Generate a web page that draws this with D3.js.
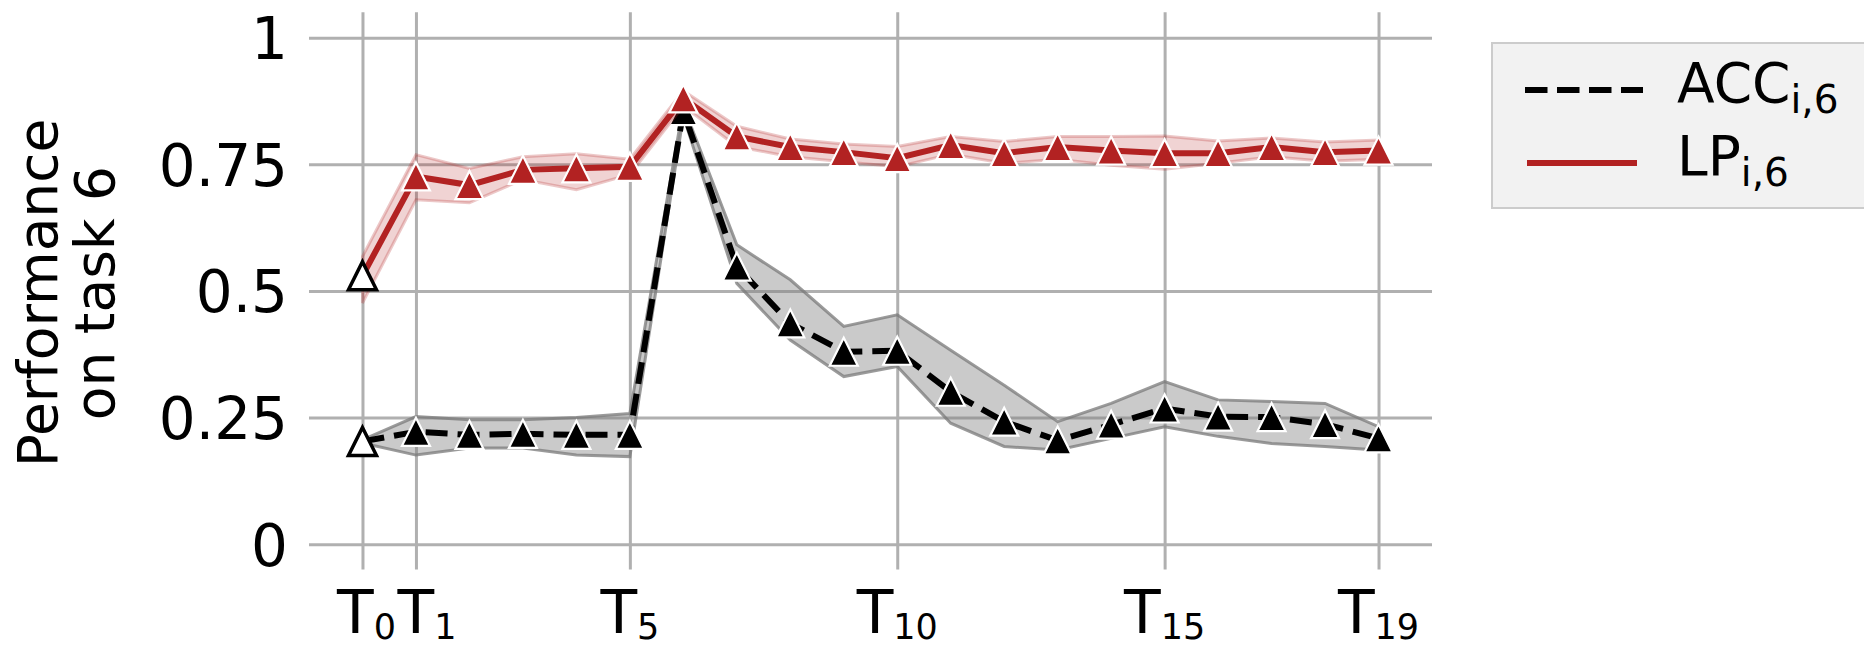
<!DOCTYPE html>
<html>
<head>
<meta charset="utf-8">
<script src="https://cdn.jsdelivr.net/npm/d3@7"></script>
<style>
  body { margin: 0; background: #fff; }
  svg { display: block; font-family: "DejaVu Sans", sans-serif; }
</style>
</head>
<body>
<svg id="chart" width="1864" height="648"></svg>
<script>
// task index on the x axis
const tasks = [0, 1, 2, 3, 4, 5, 6, 7, 8, 9, 10, 11, 12, 13, 14, 15, 16, 17, 18, 19];
const xTicks = [0, 1, 5, 10, 15, 19];
const yTicks = [0, 0.25, 0.5, 0.75, 1];
const yTickLabels = ["0", "0.25", "0.5", "0.75", "1"];

// ACC_{i,6}
const accMean = [0.203, 0.222, 0.216, 0.218, 0.216, 0.216, 0.855, 0.548, 0.436, 0.380, 0.382, 0.301, 0.242, 0.205, 0.236, 0.268, 0.252, 0.251, 0.237, 0.209];
const accLo   = [0.200, 0.176, 0.190, 0.190, 0.176, 0.173, 0.845, 0.515, 0.403, 0.331, 0.351, 0.239, 0.193, 0.186, 0.209, 0.232, 0.213, 0.199, 0.193, 0.186];
const accHi   = [0.206, 0.252, 0.246, 0.246, 0.250, 0.258, 0.865, 0.591, 0.522, 0.430, 0.453, 0.383, 0.314, 0.242, 0.278, 0.321, 0.285, 0.282, 0.278, 0.232];

// LP_{i,6}
const lpMean = [0.530, 0.726, 0.709, 0.739, 0.742, 0.745, 0.880, 0.805, 0.784, 0.774, 0.762, 0.788, 0.772, 0.784, 0.777, 0.772, 0.772, 0.784, 0.774, 0.777];
const lpLo   = [0.476, 0.680, 0.674, 0.720, 0.700, 0.730, 0.865, 0.785, 0.765, 0.755, 0.745, 0.770, 0.752, 0.760, 0.748, 0.740, 0.752, 0.765, 0.756, 0.760];
const lpHi   = [0.568, 0.769, 0.742, 0.765, 0.771, 0.760, 0.895, 0.825, 0.800, 0.790, 0.785, 0.805, 0.795, 0.805, 0.805, 0.806, 0.796, 0.802, 0.794, 0.798];

const red = "#b22222";
const gridColor = "#b0b0b0";

const svg = d3.select("#chart");

const plotL = 309, plotR = 1432, plotT = 12.3, plotB = 569.6;

const x = d3.scaleLinear().domain([-1, 20]).range([plotL, plotR]);
const y = d3.scaleLinear().domain([-0.05, 1.05]).range([plotB, plotT]);

// grid
const yAxis = svg.append("g")
  .attr("transform", "translate(" + plotL + ",0)")
  .call(d3.axisLeft(y).tickValues(yTicks).tickSize(-(plotR - plotL)).tickFormat((d, i) => yTickLabels[i]));
yAxis.select(".domain").remove();
yAxis.selectAll(".tick line").attr("stroke", gridColor).attr("stroke-width", 3);
yAxis.selectAll(".tick text")
  .attr("x", -21)
  .attr("dy", "0.36em")
  .attr("fill", "#000")
  .style("font-size", "58px")
  .style("font-family", "DejaVu Sans");

const xAxis = svg.append("g")
  .attr("transform", "translate(0," + plotB + ")")
  .call(d3.axisBottom(x).tickValues(xTicks).tickSize(-(plotB - plotT)).tickFormat(""));
xAxis.select(".domain").remove();
xAxis.selectAll(".tick line").attr("stroke", gridColor).attr("stroke-width", 3);
xAxis.selectAll(".tick text").remove();

// x tick labels with subscripts (the first two are nudged apart a little, as in the original)
const nudge = t => t === 0 ? 4 : (t === 1 ? 11 : 0);
const xLab = svg.append("g");
xTicks.forEach(t => {
  const txt = xLab.append("text")
    .attr("x", x(t) + nudge(t))
    .attr("y", 633)
    .attr("text-anchor", "middle")
    .style("font-size", "60px");
  txt.append("tspan").text("T");
  txt.append("tspan").attr("dy", 6).style("font-size", "35px").text(String(t));
});

// y label
svg.append("text")
  .attr("transform", "translate(57,293) rotate(-90)")
  .attr("text-anchor", "middle")
  .style("font-size", "55px")
  .text("Performance");
svg.append("text")
  .attr("transform", "translate(114,293) rotate(-90)")
  .attr("text-anchor", "middle")
  .style("font-size", "55px")
  .text("on task 6");

const line = d3.line().x((d, i) => x(tasks[i])).y(d => y(d));
const band = d3.area().x((d, i) => x(tasks[i])).y0(d => y(d[0])).y1(d => y(d[1]));

const tri = 28;
const triPath = "M0," + (-tri / 2) + "L" + (tri / 2) + "," + (tri / 2) + "L" + (-tri / 2) + "," + (tri / 2) + "Z";

function drawSeries(mean, lo, hi, opts) {
  const g = svg.append("g");
  g.append("path")
    .datum(lo.map((v, i) => [v, hi[i]]))
    .attr("d", band)
    .attr("fill", opts.bandFill)
    .attr("fill-opacity", opts.bandOpacity)
    .attr("stroke", opts.bandStroke)
    .attr("stroke-opacity", opts.bandStrokeOpacity)
    .attr("stroke-width", 3);
  g.append("path")
    .datum(mean)
    .attr("d", line)
    .attr("fill", "none")
    .attr("stroke", opts.color)
    .attr("stroke-width", 6)
    .attr("stroke-dasharray", opts.dash);
  g.selectAll("path.mk")
    .data(mean)
    .enter()
    .append("path")
    .attr("class", "mk")
    .attr("d", triPath)
    .attr("transform", (d, i) => "translate(" + x(tasks[i]) + "," + y(d) + ")")
    .attr("fill", (d, i) => i === 0 ? "#fff" : opts.color)
    .attr("stroke", (d, i) => i === 0 ? "#000" : "#fff")
    .attr("stroke-width", (d, i) => i === 0 ? 3.5 : 2.2)
    .attr("stroke-linejoin", "miter");
}

drawSeries(accMean, accLo, accHi, {
  color: "#000", dash: "22,10",
  bandFill: "#808080", bandOpacity: 0.42, bandStroke: "#7a7a7a", bandStrokeOpacity: 0.75
});
drawSeries(lpMean, lpLo, lpHi, {
  color: red, dash: null,
  bandFill: red, bandOpacity: 0.2, bandStroke: red, bandStrokeOpacity: 0.25
});

// legend
const lg = svg.append("g");
lg.append("rect")
  .attr("x", 1492).attr("y", 43)
  .attr("width", 400).attr("height", 165)
  .attr("fill", "#f2f2f2")
  .attr("stroke", "#cccccc")
  .attr("stroke-width", 2);
lg.append("line")
  .attr("x1", 1525).attr("x2", 1643).attr("y1", 90).attr("y2", 90)
  .attr("stroke", "#000").attr("stroke-width", 6).attr("stroke-dasharray", "22.5,9.5");
lg.append("line")
  .attr("x1", 1527).attr("x2", 1637).attr("y1", 163).attr("y2", 163)
  .attr("stroke", red).attr("stroke-width", 6);

const legendItems = [["ACC", "i,6", 102], ["LP", "i,6", 175]];
legendItems.forEach(it => {
  const t = lg.append("text")
    .attr("x", 1677).attr("y", it[2])
    .style("font-size", "55px");
  t.append("tspan").text(it[0]);
  t.append("tspan").attr("dy", 11).style("font-size", "39px").text(it[1]);
});
</script>
</body>
</html>
